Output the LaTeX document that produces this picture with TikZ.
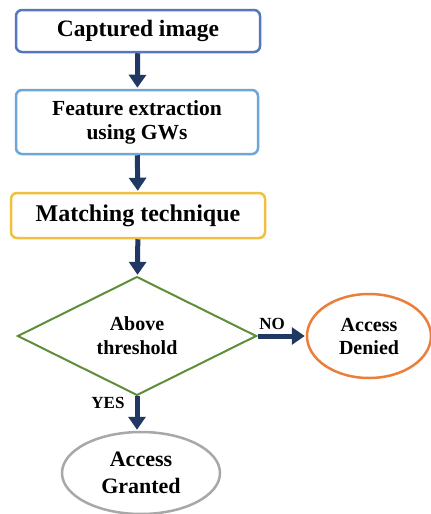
\documentclass[tikz,border=0pt]{standalone}
\usepackage{fontspec}
\setmainfont{Liberation Serif}
\usetikzlibrary{shapes.geometric,arrows.meta}
\definecolor{navyarrow}{HTML}{1F3864}
\definecolor{boxblue}{HTML}{5577BB}
\definecolor{lightblue}{HTML}{6FA6D8}
\definecolor{gold}{HTML}{F2C040}
\definecolor{dgreen}{HTML}{5F8E3A}
\definecolor{orangeb}{HTML}{EB7F3A}
\definecolor{grayb}{HTML}{A8A8A8}
\begin{document}
\begin{tikzpicture}[x=1pt,y=-1pt,
  box/.style={draw, rounded corners=6pt, line width=2.5pt, fill=white, inner sep=0pt, align=center, font=\bfseries},
  dec/.style={draw=dgreen, diamond, line width=2pt, inner sep=0pt, align=center, font=\bfseries\fontsize{20}{24}\selectfont},
  oval/.style={draw, ellipse, line width=2.5pt, inner sep=0pt, align=center},
  flow/.style={draw=navyarrow, line width=5pt, -{Triangle[width=17pt,length=13pt]}, shorten >=1pt},
  lbl/.style={font=\bfseries\fontsize{17}{20}\selectfont, inner sep=0pt}]
\useasboundingbox (0,0) rectangle (431,514);
\fill[white] (0,0) rectangle (431,514);
\node[box, draw=boxblue, minimum width=244pt, minimum height=42pt, font=\bfseries\fontsize{23.5}{26}\selectfont] (cap) at (138,31) {Captured image};
\node[box, draw=lightblue, minimum width=242pt, minimum height=64pt, font=\bfseries\fontsize{21.5}{24}\selectfont] (feat) at (137,122) {Feature extraction\\using GWs};
\node[box, draw=gold, minimum width=254pt, minimum height=45pt, font=\bfseries\fontsize{24}{26}\selectfont] (match) at (138,215.5) {Matching technique};
\node[dec, minimum width=239pt, minimum height=114pt] (thr) at (137,336) {Above\\threshold};
\node[oval, draw=orangeb, minimum width=124pt, minimum height=84pt, font=\bfseries\fontsize{20}{23}\selectfont] (deny) at (369,336) {Access\\Denied};
\node[oval, draw=grayb, minimum width=158pt, minimum height=82pt, font=\bfseries\fontsize{22}{27}\selectfont] (grant) at (141,473) {Access\\Granted};
\draw[flow] (cap) -- (feat);
\draw[flow] (feat) -- (match);
\draw[flow] (match) -- (thr);
\draw[flow] (thr.east) -- (deny.west);
\draw[flow] (thr.south) -- (thr.south |- grant.north);
\node[lbl] (no) at (272,324) {NO};
\node[lbl] (yes) at (108,403) {YES};
\end{tikzpicture}
\end{document}
